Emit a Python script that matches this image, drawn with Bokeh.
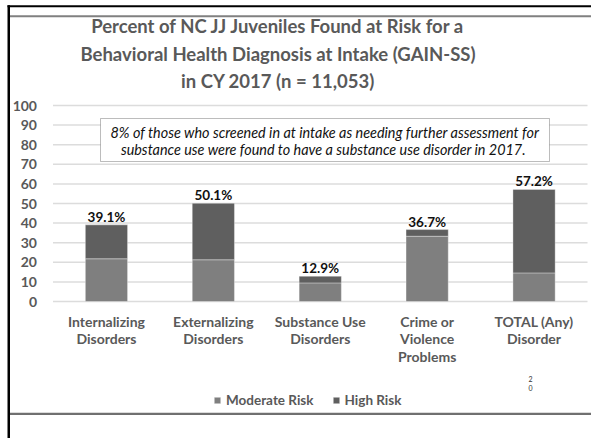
from bokeh.plotting import figure
from bokeh.models import (ColumnDataSource, Label, BoxAnnotation, Legend, LegendItem,
                          Range1d, FixedTicker)
from bokeh.core.properties import value
from bokeh.embed import file_html
from bokeh.resources import INLINE

# ---- data ----
categories = ["Internalizing\nDisorders", "Externalizing\nDisorders", "Substance Use\nDisorders",
              "Crime or\nViolence\nProblems", "TOTAL (Any)\nDisorder"]
moderate = [21.8, 21.3, 9.5, 33.3, 14.6]
high = [17.3, 28.8, 3.4, 3.4, 42.6]
totals = [39.1, 50.1, 12.9, 36.7, 57.2]
total_labels = ["39.1%", "50.1%", "12.9%", "36.7%", "57.2%"]
y_ticks = [0, 10, 20, 30, 40, 50, 60, 70, 80, 90, 100]
series_names = ["Moderate Risk", "High Risk"]
series_colors = ["#7f7f7f", "#5f5f5f"]

title_lines = ["Percent of NC JJ Juveniles Found at Risk for a",
               "Behavioral Health Diagnosis at Intake (GAIN-SS)",
               "in CY 2017 (n = 11,053)"]
note_lines = ["8% of those who screened in at intake as needing further assessment for",
              "substance use were found to have a substance use disorder in 2017."]

FONT = "Lato"
GRAY_TXT = "#595959"

W, H = 591, 438
# chart area in canvas pixels
CL, CR, CT, CB = 52.5, 587, 105, 301
n = len(categories)

def dx(px):
    return (px - CL) / (CR - CL) * n

def dy(py):
    return (CB - py) / (CB - CT) * 100.0

xpos = [i + 0.5 for i in range(n)]

p = figure(x_range=Range1d(dx(0), dx(W)), y_range=Range1d(dy(H), dy(0)),
           width=W, height=H, output_backend="svg", toolbar_location=None,
           min_border=0, min_border_left=0, min_border_right=0,
           min_border_top=0, min_border_bottom=0)
p.outline_line_color = None
p.background_fill_color = "white"
p.border_fill_color = "white"
p.xgrid.visible = False
p.ygrid.visible = False

src = ColumnDataSource(dict(x=xpos, moderate=moderate, high=high, total=totals, lab=total_labels))

# slide decorations (left rule, top double rule, bottom rule)
deco = ColumnDataSource(dict(
    left=[dx(7), dx(7), dx(9.5), dx(9.5)],
    right=[dx(9.5), dx(W), dx(W), dx(W)],
    top=[dy(4.7), dy(4.7), dy(14.7), dy(412.3)],
    bottom=[dy(H), dy(6.7), dy(16.7), dy(414.5)],
    color=["black", "black", "#808080", "#707070"]))
p.quad(left="left", right="right", top="top", bottom="bottom", color="color",
       line_color=None, source=deco, level="underlay")

# gridlines over the chart area
p.segment(x0=[0] * len(y_ticks), x1=[n] * len(y_ticks), y0=y_ticks, y1=y_ticks,
          line_color="#dcdcdc", line_width=1.5, level="underlay")

rs = p.vbar_stack(["moderate", "high"], x="x", width=0.395, source=src,
                  color=series_colors, line_color="white", line_alpha=0.35, line_width=1)

p.text(x="x", y="total", text="lab", source=src, text_align="center",
       text_baseline="bottom", y_offset=0, text_font=value(FONT), text_font_style="bold",
       text_font_size="13.5px", text_color="#111111")

# axes placed at the chart's origin
p.yaxis.fixed_location = 0
p.xaxis.fixed_location = 0
p.yaxis.ticker = FixedTicker(ticks=y_ticks)
p.xaxis.ticker = FixedTicker(ticks=xpos)
p.xaxis.major_label_overrides = {x: c for x, c in zip(xpos, categories)}
for ax in (p.xaxis, p.yaxis):
    ax.axis_line_color = None
    ax.major_tick_line_color = None
    ax.minor_tick_line_color = None
    ax.major_tick_out = 0
    ax.major_tick_in = 0
    ax.minor_tick_out = 0
    ax.major_label_text_font = FONT
    ax.major_label_text_font_style = "bold"
    ax.major_label_text_color = GRAY_TXT
    ax.major_label_text_font_size = "14px"
p.yaxis.major_label_standoff = 16
p.xaxis.major_label_standoff = 11
p.xaxis.major_label_text_line_height = 1.03

# title
for t, ty in zip(title_lines, [25, 53, 80]):
    p.add_layout(Label(x=dx(277.5), y=dy(ty), text=t, text_align="center", text_baseline="middle",
                       text_font=FONT, text_font_style="bold", text_font_size="18.5px",
                       text_color=GRAY_TXT))

# note box
p.add_layout(BoxAnnotation(left=dx(100), right=dx(549), top=dy(118), bottom=dy(161),
                           fill_color="white", fill_alpha=1, line_color="#222222", line_width=1))
for t, tx, ty in zip(note_lines, [324.5, 323], [132.3, 149]):
    p.add_layout(Label(x=dx(tx), y=dy(ty), text=t, text_align="center", text_baseline="middle",
                       text_font=FONT, text_font_style="italic", text_font_size="14.4px",
                       text_color="#111111"))

# slide number
p.add_layout(Label(x=dx(530), y=dy(383), text="2\n0", text_align="center", text_baseline="middle",
                   text_font=FONT, text_font_size="7px", text_color="#333333"))

# legend
legend = Legend(items=[LegendItem(label=series_names[0], renderers=[rs[0]]),
                       LegendItem(label=series_names[1], renderers=[rs[1]])],
                orientation="horizontal", location=(213, H - 408),
                glyph_width=8, glyph_height=8, label_standoff=5, spacing=18,
                padding=0, margin=0, border_line_color=None, background_fill_alpha=0,
                label_text_font=FONT, label_text_font_style="bold",
                label_text_font_size="13.5px", label_text_color=GRAY_TXT)
p.add_layout(legend)

open("out.html", "w").write(file_html(p, INLINE))
